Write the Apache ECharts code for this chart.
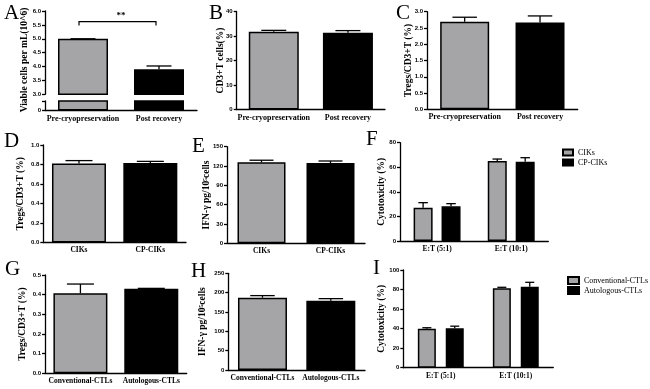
<!DOCTYPE html>
<html>
<head>
<meta charset="utf-8">
<script src="https://cdn.jsdelivr.net/npm/echarts@6/dist/echarts.min.js"></script>
<style>
  html, body { margin: 0; background: #fff; }
  #main { width: 650px; height: 389px; }
</style>
</head>
<body>
<div id="main"></div>
<script>
// categories
const catsCryo = ['Pre-cryopreservation', 'Post recovery']
const catsCik = ['CIKs', 'CP-CIKs']
const catsRatio = ['E:T (5:1)', 'E:T (10:1)']
const catsCtl = ['Conventional-CTLs', 'Autologous-CTLs']

// A - viable cells (broken axis)
const viable = [5.0, 3.9]
const viableErr = [0, 0.12]
const sigLevel = 5.62
const sigText = '**'
// B - CD3+T cells
const cd3 = [31.7, 31.3]
const cd3Err = [0.6, 0.9]
// C - Tregs after cryo
const tregCryo = [2.69, 2.67]
const tregCryoErr = [0.14, 0.2]
// D - Tregs CIKs
const tregCik = [0.81, 0.815]
const tregCikErr = [0.03, 0.017]
// E - IFN-γ CIKs
const ifnCik = [125.8, 124.7]
const ifnCikErr = [3.2, 3.1]
// F - cytotoxicity CIKs
const cytoCik = [27.1, 65.1]
const cytoCikErr = [4.1, 1.6]
const cytoCpCik = [28.2, 64.5]
const cytoCpCikErr = [2.2, 3.3]
// G - Tregs CTLs
const tregCtl = [0.407, 0.43]
const tregCtlErr = [0.047, 0.002]
// H - IFN-γ CTLs
const ifnCtl = [186.8, 179]
const ifnCtlErr = [5.5, 5.5]
// I - cytotoxicity CTLs
const cytoConv = [39.9, 81.3]
const cytoConvErr = [1, 1]
const cytoAuto = [40.3, 82.9]
const cytoAutoErr = [2.2, 4.5]

// y axis ticks [min, max, step]
const ticksAUp = [3, 6, 0.5]
const ticksALow = [0, 1, 1]
const ticksB = [0, 40, 10]
const ticksC = [0, 3, 0.5]
const ticksD = [0, 1, 0.2]
const ticksE = [0, 150, 30]
const ticksF = [0, 80, 20]
const ticksG = [0, 0.5, 0.1]
const ticksH = [0, 250, 50]
const ticksI = [0, 100, 20]

const GRAY = '#a5a5a8'
const BLACK = '#000'
const serif = 'Liberation Serif'
const sans = 'Liberation Sans'

const grids = []
const xAxes = []
const yAxes = []
const series = []
const graphics = []

const line = { lineStyle: { color: BLACK, width: 1.3 } }

function panel(box, cats, ticks, name, nameGap, digits, catSize, showX = true) {
  const gi = grids.length
  grids.push({
    left: box[0],
    top: box[1],
    width: box[2] - box[0],
    height: box[3] - box[1],
    outerBoundsMode: 'none'
  })
  xAxes.push({
    gridIndex: gi,
    type: 'category',
    data: cats,
    show: showX,
    axisLine: line,
    axisTick: { alignWithLabel: true, length: 3, ...line },
    axisLabel: {
      interval: 0,
      margin: 4,
      color: BLACK,
      fontFamily: serif,
      fontWeight: 'bold',
      fontSize: catSize
    }
  })
  yAxes.push({
    gridIndex: gi,
    type: 'value',
    min: ticks[0],
    max: ticks[1],
    interval: ticks[2],
    name: name,
    nameLocation: 'middle',
    nameGap: nameGap,
    nameMoveOverlap: false,
    nameTextStyle: {
      color: BLACK,
      fontFamily: serif,
      fontWeight: 'bold',
      fontSize: 9.5
    },
    axisLine: { show: true, ...line },
    axisTick: { show: true, length: 3, ...line },
    splitLine: { show: false },
    axisLabel: {
      margin: 4,
      color: BLACK,
      fontFamily: sans,
      fontWeight: 'bold',
      fontSize: 6,
      formatter: v => v.toFixed(digits)
    }
  })
  return gi
}

/*误差线：只画向上的一半*/
function errorBars(gi, vals, err, width, shift) {
  series.push({
    type: 'custom',
    xAxisIndex: gi,
    yAxisIndex: gi,
    silent: true,
    data: vals.map((v, i) => [i, v, v + err[i]]),
    renderItem: (params, api) => {
      const base = api.coord([api.value(0), api.value(1)])
      const top = api.coord([api.value(0), api.value(2)])
      const x = base[0] + shift
      const cap = width / 4
      const st = { stroke: BLACK, lineWidth: 1.3 }
      return {
        type: 'group',
        children: [
          { type: 'line', shape: { x1: x, y1: base[1], x2: x, y2: top[1] }, style: st },
          { type: 'line', shape: { x1: x - cap, y1: top[1], x2: x + cap, y2: top[1] }, style: st }
        ]
      }
    }
  })
}

function pairBars(gi, name, vals, err, width, withErr = true) {
  const colors = [GRAY, BLACK]
  series.push({
    type: 'bar',
    name: name,
    xAxisIndex: gi,
    yAxisIndex: gi,
    barWidth: width,
    itemStyle: { borderColor: BLACK, borderWidth: 1.5 },
    data: vals.map((v, i) => ({ value: v, itemStyle: { color: colors[i] } }))
  })
  if (withErr) errorBars(gi, vals, err, width, 0)
}

function groupBars(gi, names, groups, errs, width, gapRatio) {
  const colors = [GRAY, BLACK]
  const off = (width + width * gapRatio) / 2
  groups.forEach((vals, k) => {
    series.push({
      type: 'bar',
      name: names[k],
      xAxisIndex: gi,
      yAxisIndex: gi,
      barWidth: width,
      barGap: gapRatio * 100 + '%',
      itemStyle: { color: colors[k], borderColor: BLACK, borderWidth: 1.5 },
      data: vals
    })
  })
  groups.forEach((vals, k) => {
    errorBars(gi, vals, errs[k], width, k === 0 ? -off : off)
  })
}

function letter(ch, x, y) {
  graphics.push({
    type: 'text',
    x: x,
    y: y,
    style: {
      text: ch,
      font: '21px "Liberation Serif"',
      fill: BLACK,
      textVerticalAlign: 'bottom'
    }
  })
}

// A：断轴，上下两个 grid
const gAUp = panel([45, 11, 197, 94.3], catsCryo, ticksAUp, '', 0, 1, 8, false)
pairBars(gAUp, 'A-up', viable, viableErr, 50)
series.push({
  type: 'custom',
  xAxisIndex: gAUp,
  yAxisIndex: gAUp,
  silent: true,
  data: [[0, 1, sigLevel]],
  renderItem: (params, api) => {
    const a = api.coord([api.value(0), api.value(2)])
    const b = api.coord([api.value(1), api.value(2)])
    return {
      type: 'group',
      children: [
        {
          type: 'polyline',
          shape: { points: [[a[0] - 4, a[1] + 4], [a[0] - 4, a[1]], [b[0] - 3, b[1]], [b[0] - 3, b[1] + 4]] },
          style: { stroke: BLACK, lineWidth: 1.2, fill: null }
        },
        {
          type: 'text',
          x: (a[0] + b[0]) / 2,
          y: a[1] - 1,
          style: { text: sigText, font: 'bold 9px "Liberation Serif"', fill: BLACK, textAlign: 'center', textVerticalAlign: 'bottom' }
        }
      ]
    }
  }
})
const gALow = panel([45, 101, 197, 110.5], catsCryo, ticksALow, '', 0, 0, 8)
yAxes[gALow].axisLabel.formatter = v => (v === 0 ? '0' : '')
pairBars(gALow, 'A-low', viable, viableErr, 50, false)
graphics.push({
  type: 'text',
  x: 25,
  y: 60,
  rotation: Math.PI / 2,
  style: {
    text: 'Viable cells per mL(10^6)',
    font: 'bold 9.5px "Liberation Serif"',
    fill: BLACK,
    textAlign: 'center',
    textVerticalAlign: 'middle'
  }
})

const gB = panel([236.7, 11.5, 385, 109.5], catsCryo, ticksB, 'CD3+T cells(%)', 11, 0, 8)
pairBars(gB, 'B', cd3, cd3Err, 50)

const gC = panel([427, 11.7, 577.7, 109.3], catsCryo, ticksC, 'Tregs/CD3+T (%)', 13, 1, 8)
pairBars(gC, 'C', tregCryo, tregCryoErr, 49)

const gD = panel([43.3, 145, 186, 242.5], catsCik, ticksD, 'Tregs/CD3+T (%)', 18, 1, 7.5)
pairBars(gD, 'D', tregCik, tregCikErr, 54)

const gE = panel([227, 146.7, 365, 243.3], catsCik, ticksE, 'IFN-γ pg/10⁵cells', 15, 0, 7.5)
pairBars(gE, 'E', ifnCik, ifnCikErr, 48)

const gF = panel([400, 142.7, 548.3, 241], catsRatio, ticksF, 'Cytotoxicity (%)', 13, 0, 7.5)
groupBars(gF, ['CIKs', 'CP-CIKs'], [cytoCik, cytoCpCik], [cytoCikErr, cytoCpCikErr], 19, 0.47)

const gG = panel([45, 275, 186.7, 373.3], catsCtl, ticksG, 'Tregs/CD3+T (%)', 17, 1, 7.5)
pairBars(gG, 'G', tregCtl, tregCtlErr, 54)

const gH = panel([228.3, 273.3, 365, 370], catsCtl, ticksH, 'IFN-γ pg/10⁵cells', 21, 0, 7.5)
pairBars(gH, 'H', ifnCtl, ifnCtlErr, 49)

const gI = panel([403.3, 270, 553.3, 367.7], catsRatio, ticksI, 'Cytotoxicity (%)', 17, 0, 7.5)
groupBars(gI, ['Conventional-CTLs', 'Autologous-CTLs'], [cytoConv, cytoAuto], [cytoConvErr, cytoAutoErr], 18, 0.55)

letter('A', 4, 24)
letter('B', 209, 24)
letter('C', 396, 24)
letter('D', 4, 152)
letter('E', 192, 157)
letter('F', 366, 150)
letter('G', 5, 280)
letter('H', 191, 282)
letter('I', 373, 279)

const legendText = { color: BLACK, fontFamily: serif, fontSize: 8 }
const option = {
  animation: false,
  backgroundColor: '#fff',
  grid: grids,
  xAxis: xAxes,
  yAxis: yAxes,
  series: series,
  graphic: graphics,
  legend: [
    {
      data: ['CIKs', 'CP-CIKs'],
      orient: 'vertical',
      left: 557,
      top: 143.5,
      icon: 'rect',
      itemWidth: 10,
      itemHeight: 6,
      itemGap: 2,
      textStyle: legendText
    },
    {
      data: ['Conventional-CTLs', 'Autologous-CTLs'],
      orient: 'vertical',
      left: 562,
      top: 271,
      icon: 'rect',
      itemWidth: 11,
      itemHeight: 7,
      itemGap: 1,
      textStyle: legendText
    }
  ]
}

const chartDom = document.getElementById('main')
const myChart = echarts.init(chartDom)
myChart.setOption(option)
</script>
</body>
</html>
